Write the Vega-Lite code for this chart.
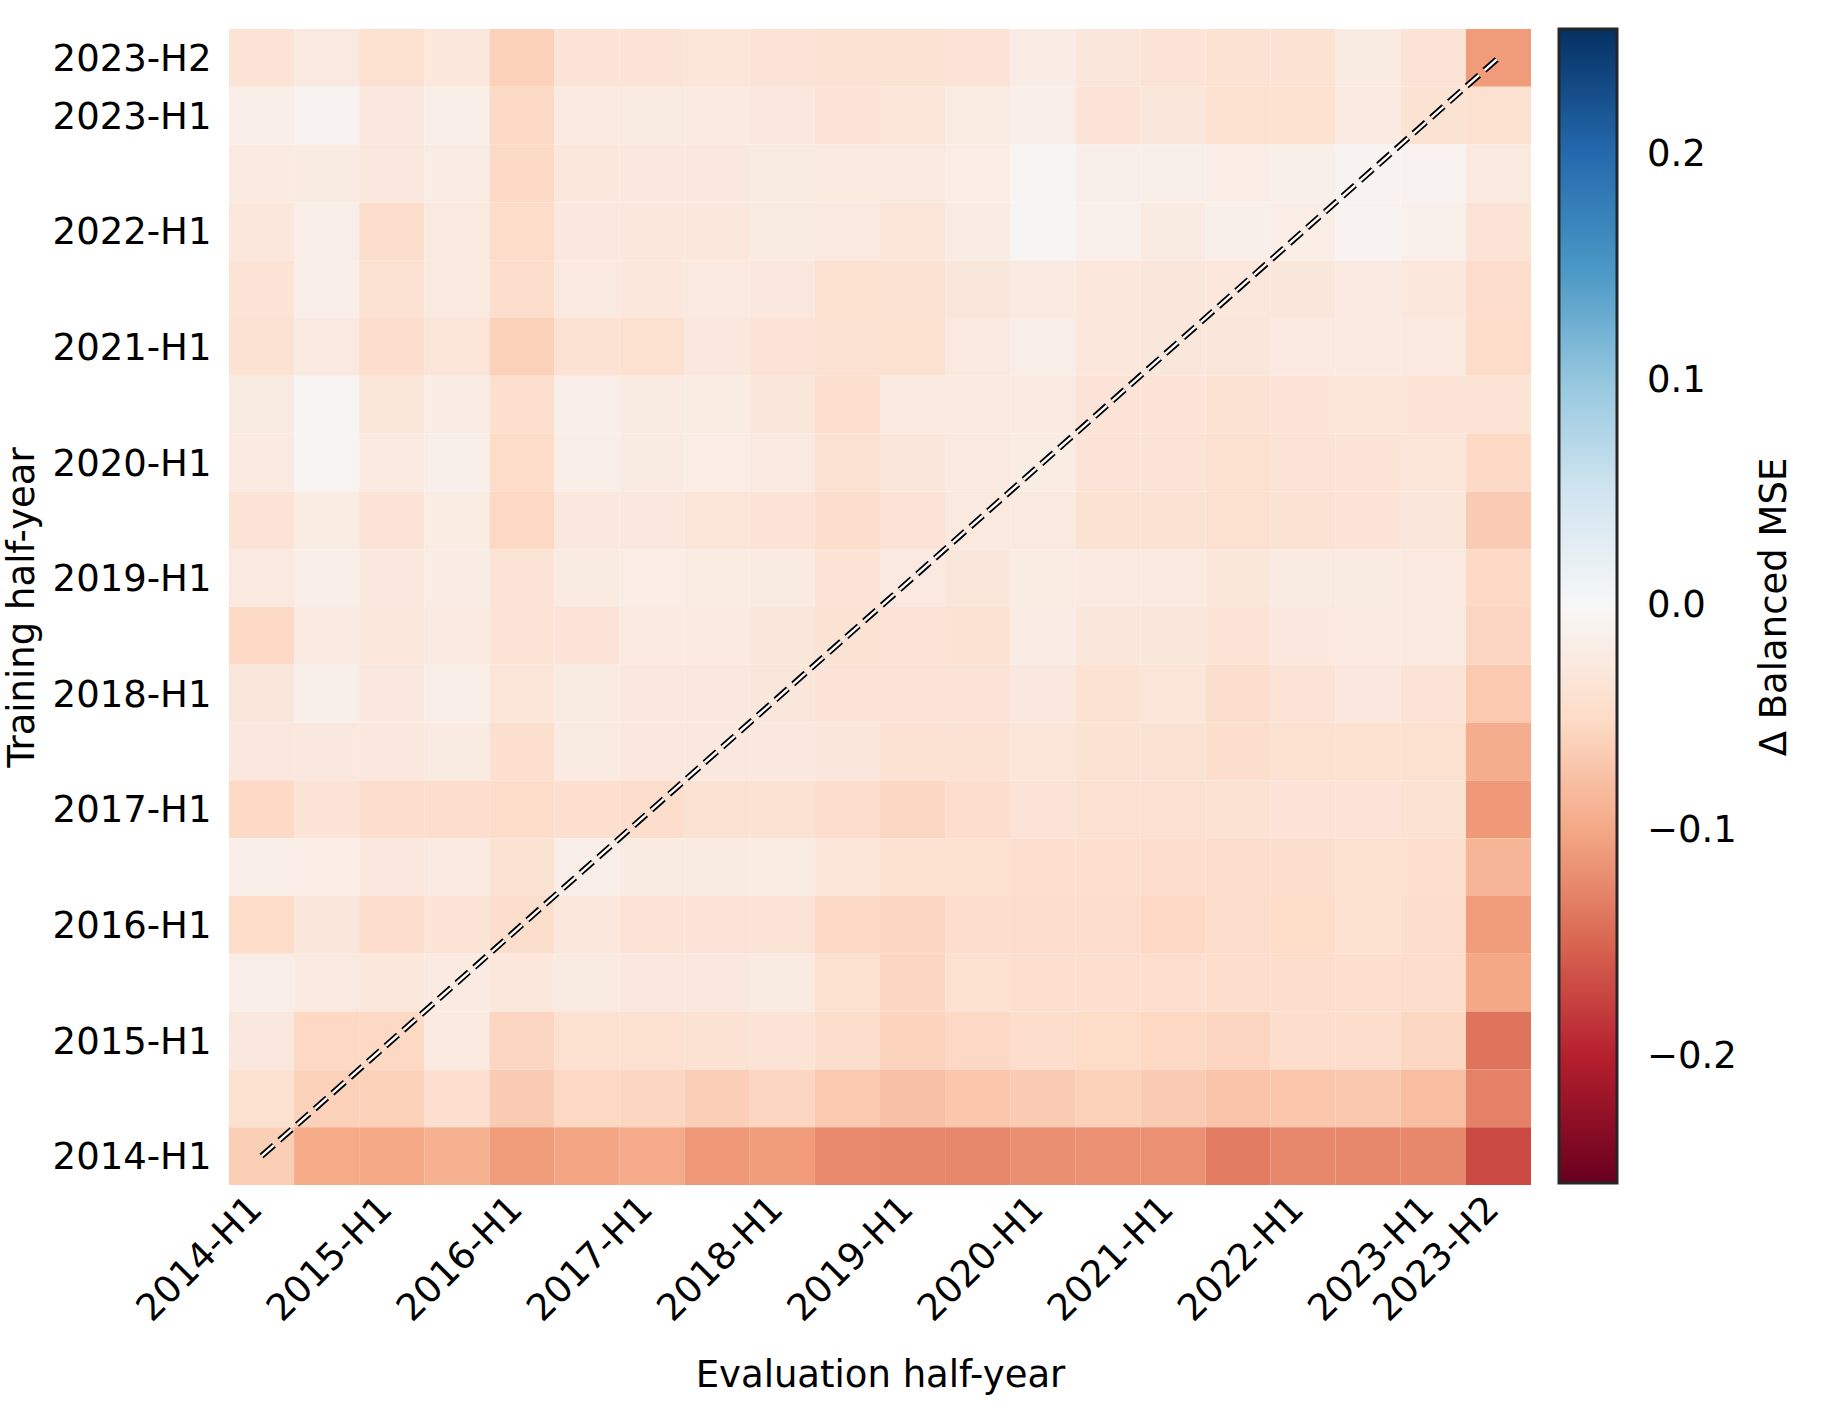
{
"$schema":"https://vega.github.io/schema/vega-lite/v6.json",
"width":1302,"height":1156,
"autosize":{"type":"none"},
"padding":{"left":229,"top":29,"right":290,"bottom":239},
"background":"white",
"config":{"font":"DejaVu Sans","view":{"stroke":null},
"axis":{"labelFontSize":37,"titleFontSize":37,"titleFontWeight":"normal","labelColor":"#000","titleColor":"#000","ticks":false,"domain":false,"grid":false,"labelOverlap":false,"labelBound":false,"labelFlush":false,"labelLimit":0}},
"layer":[
{"data":{"values":[
{"tr":"2023-H2","ev":"2014-H1","d":-0.036},{"tr":"2023-H2","ev":"2014-H2","d":-0.025},{"tr":"2023-H2","ev":"2015-H1","d":-0.041},{"tr":"2023-H2","ev":"2015-H2","d":-0.030},{"tr":"2023-H2","ev":"2016-H1","d":-0.061},{"tr":"2023-H2","ev":"2016-H2","d":-0.036},{"tr":"2023-H2","ev":"2017-H1","d":-0.036},{"tr":"2023-H2","ev":"2017-H2","d":-0.033},{"tr":"2023-H2","ev":"2018-H1","d":-0.036},{"tr":"2023-H2","ev":"2018-H2","d":-0.038},{"tr":"2023-H2","ev":"2019-H1","d":-0.037},{"tr":"2023-H2","ev":"2019-H2","d":-0.036},{"tr":"2023-H2","ev":"2020-H1","d":-0.020},{"tr":"2023-H2","ev":"2020-H2","d":-0.029},{"tr":"2023-H2","ev":"2021-H1","d":-0.034},{"tr":"2023-H2","ev":"2021-H2","d":-0.037},{"tr":"2023-H2","ev":"2022-H1","d":-0.037},{"tr":"2023-H2","ev":"2022-H2","d":-0.022},{"tr":"2023-H2","ev":"2023-H1","d":-0.035},{"tr":"2023-H2","ev":"2023-H2","d":-0.110},
{"tr":"2023-H1","ev":"2014-H1","d":-0.017},{"tr":"2023-H1","ev":"2014-H2","d":-0.007},{"tr":"2023-H1","ev":"2015-H1","d":-0.027},{"tr":"2023-H1","ev":"2015-H2","d":-0.016},{"tr":"2023-H1","ev":"2016-H1","d":-0.052},{"tr":"2023-H1","ev":"2016-H2","d":-0.023},{"tr":"2023-H1","ev":"2017-H1","d":-0.022},{"tr":"2023-H1","ev":"2017-H2","d":-0.023},{"tr":"2023-H1","ev":"2018-H1","d":-0.027},{"tr":"2023-H1","ev":"2018-H2","d":-0.035},{"tr":"2023-H1","ev":"2019-H1","d":-0.033},{"tr":"2023-H1","ev":"2019-H2","d":-0.021},{"tr":"2023-H1","ev":"2020-H1","d":-0.016},{"tr":"2023-H1","ev":"2020-H2","d":-0.036},{"tr":"2023-H1","ev":"2021-H1","d":-0.029},{"tr":"2023-H1","ev":"2021-H2","d":-0.041},{"tr":"2023-H1","ev":"2022-H1","d":-0.041},{"tr":"2023-H1","ev":"2022-H2","d":-0.024},{"tr":"2023-H1","ev":"2023-H1","d":-0.037},{"tr":"2023-H1","ev":"2023-H2","d":-0.041},
{"tr":"2022-H2","ev":"2014-H1","d":-0.023},{"tr":"2022-H2","ev":"2014-H2","d":-0.022},{"tr":"2022-H2","ev":"2015-H1","d":-0.027},{"tr":"2022-H2","ev":"2015-H2","d":-0.020},{"tr":"2022-H2","ev":"2016-H1","d":-0.052},{"tr":"2022-H2","ev":"2016-H2","d":-0.028},{"tr":"2022-H2","ev":"2017-H1","d":-0.027},{"tr":"2022-H2","ev":"2017-H2","d":-0.027},{"tr":"2022-H2","ev":"2018-H1","d":-0.022},{"tr":"2022-H2","ev":"2018-H2","d":-0.026},{"tr":"2022-H2","ev":"2019-H1","d":-0.025},{"tr":"2022-H2","ev":"2019-H2","d":-0.019},{"tr":"2022-H2","ev":"2020-H1","d":-0.005},{"tr":"2022-H2","ev":"2020-H2","d":-0.014},{"tr":"2022-H2","ev":"2021-H1","d":-0.015},{"tr":"2022-H2","ev":"2021-H2","d":-0.018},{"tr":"2022-H2","ev":"2022-H1","d":-0.015},{"tr":"2022-H2","ev":"2022-H2","d":-0.007},{"tr":"2022-H2","ev":"2023-H1","d":-0.007},{"tr":"2022-H2","ev":"2023-H2","d":-0.026},
{"tr":"2022-H1","ev":"2014-H1","d":-0.030},{"tr":"2022-H1","ev":"2014-H2","d":-0.017},{"tr":"2022-H1","ev":"2015-H1","d":-0.045},{"tr":"2022-H1","ev":"2015-H2","d":-0.026},{"tr":"2022-H1","ev":"2016-H1","d":-0.048},{"tr":"2022-H1","ev":"2016-H2","d":-0.027},{"tr":"2022-H1","ev":"2017-H1","d":-0.030},{"tr":"2022-H1","ev":"2017-H2","d":-0.030},{"tr":"2022-H1","ev":"2018-H1","d":-0.022},{"tr":"2022-H1","ev":"2018-H2","d":-0.025},{"tr":"2022-H1","ev":"2019-H1","d":-0.033},{"tr":"2022-H1","ev":"2019-H2","d":-0.020},{"tr":"2022-H1","ev":"2020-H1","d":-0.004},{"tr":"2022-H1","ev":"2020-H2","d":-0.013},{"tr":"2022-H1","ev":"2021-H1","d":-0.022},{"tr":"2022-H1","ev":"2021-H2","d":-0.014},{"tr":"2022-H1","ev":"2022-H1","d":-0.019},{"tr":"2022-H1","ev":"2022-H2","d":-0.007},{"tr":"2022-H1","ev":"2023-H1","d":-0.013},{"tr":"2022-H1","ev":"2023-H2","d":-0.035},
{"tr":"2021-H2","ev":"2014-H1","d":-0.036},{"tr":"2021-H2","ev":"2014-H2","d":-0.016},{"tr":"2021-H2","ev":"2015-H1","d":-0.038},{"tr":"2021-H2","ev":"2015-H2","d":-0.026},{"tr":"2021-H2","ev":"2016-H1","d":-0.047},{"tr":"2021-H2","ev":"2016-H2","d":-0.026},{"tr":"2021-H2","ev":"2017-H1","d":-0.030},{"tr":"2021-H2","ev":"2017-H2","d":-0.025},{"tr":"2021-H2","ev":"2018-H1","d":-0.027},{"tr":"2021-H2","ev":"2018-H2","d":-0.041},{"tr":"2021-H2","ev":"2019-H1","d":-0.037},{"tr":"2021-H2","ev":"2019-H2","d":-0.029},{"tr":"2021-H2","ev":"2020-H1","d":-0.023},{"tr":"2021-H2","ev":"2020-H2","d":-0.030},{"tr":"2021-H2","ev":"2021-H1","d":-0.029},{"tr":"2021-H2","ev":"2021-H2","d":-0.030},{"tr":"2021-H2","ev":"2022-H1","d":-0.029},{"tr":"2021-H2","ev":"2022-H2","d":-0.025},{"tr":"2021-H2","ev":"2023-H1","d":-0.030},{"tr":"2021-H2","ev":"2023-H2","d":-0.047},
{"tr":"2021-H1","ev":"2014-H1","d":-0.038},{"tr":"2021-H1","ev":"2014-H2","d":-0.025},{"tr":"2021-H1","ev":"2015-H1","d":-0.047},{"tr":"2021-H1","ev":"2015-H2","d":-0.033},{"tr":"2021-H1","ev":"2016-H1","d":-0.061},{"tr":"2021-H1","ev":"2016-H2","d":-0.038},{"tr":"2021-H1","ev":"2017-H1","d":-0.041},{"tr":"2021-H1","ev":"2017-H2","d":-0.027},{"tr":"2021-H1","ev":"2018-H1","d":-0.036},{"tr":"2021-H1","ev":"2018-H2","d":-0.038},{"tr":"2021-H1","ev":"2019-H1","d":-0.041},{"tr":"2021-H1","ev":"2019-H2","d":-0.026},{"tr":"2021-H1","ev":"2020-H1","d":-0.017},{"tr":"2021-H1","ev":"2020-H2","d":-0.030},{"tr":"2021-H1","ev":"2021-H1","d":-0.029},{"tr":"2021-H1","ev":"2021-H2","d":-0.029},{"tr":"2021-H1","ev":"2022-H1","d":-0.023},{"tr":"2021-H1","ev":"2022-H2","d":-0.023},{"tr":"2021-H1","ev":"2023-H1","d":-0.026},{"tr":"2021-H1","ev":"2023-H2","d":-0.048},
{"tr":"2020-H2","ev":"2014-H1","d":-0.022},{"tr":"2020-H2","ev":"2014-H2","d":-0.005},{"tr":"2020-H2","ev":"2015-H1","d":-0.031},{"tr":"2020-H2","ev":"2015-H2","d":-0.020},{"tr":"2020-H2","ev":"2016-H1","d":-0.043},{"tr":"2020-H2","ev":"2016-H2","d":-0.016},{"tr":"2020-H2","ev":"2017-H1","d":-0.022},{"tr":"2020-H2","ev":"2017-H2","d":-0.021},{"tr":"2020-H2","ev":"2018-H1","d":-0.029},{"tr":"2020-H2","ev":"2018-H2","d":-0.043},{"tr":"2020-H2","ev":"2019-H1","d":-0.025},{"tr":"2020-H2","ev":"2019-H2","d":-0.025},{"tr":"2020-H2","ev":"2020-H1","d":-0.023},{"tr":"2020-H2","ev":"2020-H2","d":-0.034},{"tr":"2020-H2","ev":"2021-H1","d":-0.034},{"tr":"2020-H2","ev":"2021-H2","d":-0.037},{"tr":"2020-H2","ev":"2022-H1","d":-0.036},{"tr":"2020-H2","ev":"2022-H2","d":-0.033},{"tr":"2020-H2","ev":"2023-H1","d":-0.036},{"tr":"2020-H2","ev":"2023-H2","d":-0.035},
{"tr":"2020-H1","ev":"2014-H1","d":-0.024},{"tr":"2020-H1","ev":"2014-H2","d":-0.006},{"tr":"2020-H1","ev":"2015-H1","d":-0.024},{"tr":"2020-H1","ev":"2015-H2","d":-0.014},{"tr":"2020-H1","ev":"2016-H1","d":-0.048},{"tr":"2020-H1","ev":"2016-H2","d":-0.016},{"tr":"2020-H1","ev":"2017-H1","d":-0.022},{"tr":"2020-H1","ev":"2017-H2","d":-0.019},{"tr":"2020-H1","ev":"2018-H1","d":-0.026},{"tr":"2020-H1","ev":"2018-H2","d":-0.038},{"tr":"2020-H1","ev":"2019-H1","d":-0.029},{"tr":"2020-H1","ev":"2019-H2","d":-0.025},{"tr":"2020-H1","ev":"2020-H1","d":-0.021},{"tr":"2020-H1","ev":"2020-H2","d":-0.034},{"tr":"2020-H1","ev":"2021-H1","d":-0.035},{"tr":"2020-H1","ev":"2021-H2","d":-0.042},{"tr":"2020-H1","ev":"2022-H1","d":-0.035},{"tr":"2020-H1","ev":"2022-H2","d":-0.035},{"tr":"2020-H1","ev":"2023-H1","d":-0.032},{"tr":"2020-H1","ev":"2023-H2","d":-0.052},
{"tr":"2019-H2","ev":"2014-H1","d":-0.035},{"tr":"2019-H2","ev":"2014-H2","d":-0.021},{"tr":"2019-H2","ev":"2015-H1","d":-0.035},{"tr":"2019-H2","ev":"2015-H2","d":-0.021},{"tr":"2019-H2","ev":"2016-H1","d":-0.054},{"tr":"2019-H2","ev":"2016-H2","d":-0.027},{"tr":"2019-H2","ev":"2017-H1","d":-0.027},{"tr":"2019-H2","ev":"2017-H2","d":-0.033},{"tr":"2019-H2","ev":"2018-H1","d":-0.035},{"tr":"2019-H2","ev":"2018-H2","d":-0.046},{"tr":"2019-H2","ev":"2019-H1","d":-0.036},{"tr":"2019-H2","ev":"2019-H2","d":-0.026},{"tr":"2019-H2","ev":"2020-H1","d":-0.026},{"tr":"2019-H2","ev":"2020-H2","d":-0.037},{"tr":"2019-H2","ev":"2021-H1","d":-0.037},{"tr":"2019-H2","ev":"2021-H2","d":-0.042},{"tr":"2019-H2","ev":"2022-H1","d":-0.037},{"tr":"2019-H2","ev":"2022-H2","d":-0.035},{"tr":"2019-H2","ev":"2023-H1","d":-0.029},{"tr":"2019-H2","ev":"2023-H2","d":-0.066},
{"tr":"2019-H1","ev":"2014-H1","d":-0.025},{"tr":"2019-H1","ev":"2014-H2","d":-0.017},{"tr":"2019-H1","ev":"2015-H1","d":-0.027},{"tr":"2019-H1","ev":"2015-H2","d":-0.020},{"tr":"2019-H1","ev":"2016-H1","d":-0.035},{"tr":"2019-H1","ev":"2016-H2","d":-0.022},{"tr":"2019-H1","ev":"2017-H1","d":-0.018},{"tr":"2019-H1","ev":"2017-H2","d":-0.021},{"tr":"2019-H1","ev":"2018-H1","d":-0.022},{"tr":"2019-H1","ev":"2018-H2","d":-0.035},{"tr":"2019-H1","ev":"2019-H1","d":-0.025},{"tr":"2019-H1","ev":"2019-H2","d":-0.029},{"tr":"2019-H1","ev":"2020-H1","d":-0.021},{"tr":"2019-H1","ev":"2020-H2","d":-0.024},{"tr":"2019-H1","ev":"2021-H1","d":-0.024},{"tr":"2019-H1","ev":"2021-H2","d":-0.031},{"tr":"2019-H1","ev":"2022-H1","d":-0.022},{"tr":"2019-H1","ev":"2022-H2","d":-0.022},{"tr":"2019-H1","ev":"2023-H1","d":-0.025},{"tr":"2019-H1","ev":"2023-H2","d":-0.052},
{"tr":"2018-H2","ev":"2014-H1","d":-0.052},{"tr":"2018-H2","ev":"2014-H2","d":-0.023},{"tr":"2018-H2","ev":"2015-H1","d":-0.030},{"tr":"2018-H2","ev":"2015-H2","d":-0.024},{"tr":"2018-H2","ev":"2016-H1","d":-0.035},{"tr":"2018-H2","ev":"2016-H2","d":-0.034},{"tr":"2018-H2","ev":"2017-H1","d":-0.024},{"tr":"2018-H2","ev":"2017-H2","d":-0.024},{"tr":"2018-H2","ev":"2018-H1","d":-0.029},{"tr":"2018-H2","ev":"2018-H2","d":-0.037},{"tr":"2018-H2","ev":"2019-H1","d":-0.036},{"tr":"2018-H2","ev":"2019-H2","d":-0.038},{"tr":"2018-H2","ev":"2020-H1","d":-0.020},{"tr":"2018-H2","ev":"2020-H2","d":-0.029},{"tr":"2018-H2","ev":"2021-H1","d":-0.029},{"tr":"2018-H2","ev":"2021-H2","d":-0.035},{"tr":"2018-H2","ev":"2022-H1","d":-0.027},{"tr":"2018-H2","ev":"2022-H2","d":-0.025},{"tr":"2018-H2","ev":"2023-H1","d":-0.025},{"tr":"2018-H2","ev":"2023-H2","d":-0.056},
{"tr":"2018-H1","ev":"2014-H1","d":-0.029},{"tr":"2018-H1","ev":"2014-H2","d":-0.014},{"tr":"2018-H1","ev":"2015-H1","d":-0.027},{"tr":"2018-H1","ev":"2015-H2","d":-0.016},{"tr":"2018-H1","ev":"2016-H1","d":-0.032},{"tr":"2018-H1","ev":"2016-H2","d":-0.022},{"tr":"2018-H1","ev":"2017-H1","d":-0.027},{"tr":"2018-H1","ev":"2017-H2","d":-0.027},{"tr":"2018-H1","ev":"2018-H1","d":-0.029},{"tr":"2018-H1","ev":"2018-H2","d":-0.034},{"tr":"2018-H1","ev":"2019-H1","d":-0.036},{"tr":"2018-H1","ev":"2019-H2","d":-0.036},{"tr":"2018-H1","ev":"2020-H1","d":-0.027},{"tr":"2018-H1","ev":"2020-H2","d":-0.038},{"tr":"2018-H1","ev":"2021-H1","d":-0.032},{"tr":"2018-H1","ev":"2021-H2","d":-0.046},{"tr":"2018-H1","ev":"2022-H1","d":-0.035},{"tr":"2018-H1","ev":"2022-H2","d":-0.027},{"tr":"2018-H1","ev":"2023-H1","d":-0.035},{"tr":"2018-H1","ev":"2023-H2","d":-0.068},
{"tr":"2017-H2","ev":"2014-H1","d":-0.027},{"tr":"2017-H2","ev":"2014-H2","d":-0.027},{"tr":"2017-H2","ev":"2015-H1","d":-0.027},{"tr":"2017-H2","ev":"2015-H2","d":-0.022},{"tr":"2017-H2","ev":"2016-H1","d":-0.043},{"tr":"2017-H2","ev":"2016-H2","d":-0.022},{"tr":"2017-H2","ev":"2017-H1","d":-0.027},{"tr":"2017-H2","ev":"2017-H2","d":-0.027},{"tr":"2017-H2","ev":"2018-H1","d":-0.027},{"tr":"2017-H2","ev":"2018-H2","d":-0.029},{"tr":"2017-H2","ev":"2019-H1","d":-0.038},{"tr":"2017-H2","ev":"2019-H2","d":-0.038},{"tr":"2017-H2","ev":"2020-H1","d":-0.032},{"tr":"2017-H2","ev":"2020-H2","d":-0.037},{"tr":"2017-H2","ev":"2021-H1","d":-0.037},{"tr":"2017-H2","ev":"2021-H2","d":-0.047},{"tr":"2017-H2","ev":"2022-H1","d":-0.042},{"tr":"2017-H2","ev":"2022-H2","d":-0.041},{"tr":"2017-H2","ev":"2023-H1","d":-0.041},{"tr":"2017-H2","ev":"2023-H2","d":-0.094},
{"tr":"2017-H1","ev":"2014-H1","d":-0.052},{"tr":"2017-H1","ev":"2014-H2","d":-0.035},{"tr":"2017-H1","ev":"2015-H1","d":-0.047},{"tr":"2017-H1","ev":"2015-H2","d":-0.047},{"tr":"2017-H1","ev":"2016-H1","d":-0.048},{"tr":"2017-H1","ev":"2016-H2","d":-0.044},{"tr":"2017-H1","ev":"2017-H1","d":-0.047},{"tr":"2017-H1","ev":"2017-H2","d":-0.037},{"tr":"2017-H1","ev":"2018-H1","d":-0.037},{"tr":"2017-H1","ev":"2018-H2","d":-0.047},{"tr":"2017-H1","ev":"2019-H1","d":-0.055},{"tr":"2017-H1","ev":"2019-H2","d":-0.047},{"tr":"2017-H1","ev":"2020-H1","d":-0.034},{"tr":"2017-H1","ev":"2020-H2","d":-0.040},{"tr":"2017-H1","ev":"2021-H1","d":-0.040},{"tr":"2017-H1","ev":"2021-H2","d":-0.039},{"tr":"2017-H1","ev":"2022-H1","d":-0.034},{"tr":"2017-H1","ev":"2022-H2","d":-0.034},{"tr":"2017-H1","ev":"2023-H1","d":-0.037},{"tr":"2017-H1","ev":"2023-H2","d":-0.111},
{"tr":"2016-H2","ev":"2014-H1","d":-0.017},{"tr":"2016-H2","ev":"2014-H2","d":-0.018},{"tr":"2016-H2","ev":"2015-H1","d":-0.027},{"tr":"2016-H2","ev":"2015-H2","d":-0.024},{"tr":"2016-H2","ev":"2016-H1","d":-0.037},{"tr":"2016-H2","ev":"2016-H2","d":-0.017},{"tr":"2016-H2","ev":"2017-H1","d":-0.022},{"tr":"2016-H2","ev":"2017-H2","d":-0.022},{"tr":"2016-H2","ev":"2018-H1","d":-0.021},{"tr":"2016-H2","ev":"2018-H2","d":-0.032},{"tr":"2016-H2","ev":"2019-H1","d":-0.041},{"tr":"2016-H2","ev":"2019-H2","d":-0.041},{"tr":"2016-H2","ev":"2020-H1","d":-0.043},{"tr":"2016-H2","ev":"2020-H2","d":-0.044},{"tr":"2016-H2","ev":"2021-H1","d":-0.047},{"tr":"2016-H2","ev":"2021-H2","d":-0.047},{"tr":"2016-H2","ev":"2022-H1","d":-0.045},{"tr":"2016-H2","ev":"2022-H2","d":-0.042},{"tr":"2016-H2","ev":"2023-H1","d":-0.044},{"tr":"2016-H2","ev":"2023-H2","d":-0.087},
{"tr":"2016-H1","ev":"2014-H1","d":-0.048},{"tr":"2016-H1","ev":"2014-H2","d":-0.029},{"tr":"2016-H1","ev":"2015-H1","d":-0.047},{"tr":"2016-H1","ev":"2015-H2","d":-0.035},{"tr":"2016-H1","ev":"2016-H1","d":-0.046},{"tr":"2016-H1","ev":"2016-H2","d":-0.030},{"tr":"2016-H1","ev":"2017-H1","d":-0.035},{"tr":"2016-H1","ev":"2017-H2","d":-0.034},{"tr":"2016-H1","ev":"2018-H1","d":-0.035},{"tr":"2016-H1","ev":"2018-H2","d":-0.052},{"tr":"2016-H1","ev":"2019-H1","d":-0.056},{"tr":"2016-H1","ev":"2019-H2","d":-0.047},{"tr":"2016-H1","ev":"2020-H1","d":-0.047},{"tr":"2016-H1","ev":"2020-H2","d":-0.047},{"tr":"2016-H1","ev":"2021-H1","d":-0.053},{"tr":"2016-H1","ev":"2021-H2","d":-0.047},{"tr":"2016-H1","ev":"2022-H1","d":-0.050},{"tr":"2016-H1","ev":"2022-H2","d":-0.042},{"tr":"2016-H1","ev":"2023-H1","d":-0.047},{"tr":"2016-H1","ev":"2023-H2","d":-0.108},
{"tr":"2015-H2","ev":"2014-H1","d":-0.017},{"tr":"2015-H2","ev":"2014-H2","d":-0.025},{"tr":"2015-H2","ev":"2015-H1","d":-0.030},{"tr":"2015-H2","ev":"2015-H2","d":-0.024},{"tr":"2015-H2","ev":"2016-H1","d":-0.030},{"tr":"2015-H2","ev":"2016-H2","d":-0.022},{"tr":"2015-H2","ev":"2017-H1","d":-0.027},{"tr":"2015-H2","ev":"2017-H2","d":-0.027},{"tr":"2015-H2","ev":"2018-H1","d":-0.022},{"tr":"2015-H2","ev":"2018-H2","d":-0.042},{"tr":"2015-H2","ev":"2019-H1","d":-0.056},{"tr":"2015-H2","ev":"2019-H2","d":-0.041},{"tr":"2015-H2","ev":"2020-H1","d":-0.043},{"tr":"2015-H2","ev":"2020-H2","d":-0.044},{"tr":"2015-H2","ev":"2021-H1","d":-0.044},{"tr":"2015-H2","ev":"2021-H2","d":-0.047},{"tr":"2015-H2","ev":"2022-H1","d":-0.047},{"tr":"2015-H2","ev":"2022-H2","d":-0.043},{"tr":"2015-H2","ev":"2023-H1","d":-0.047},{"tr":"2015-H2","ev":"2023-H2","d":-0.100},
{"tr":"2015-H1","ev":"2014-H1","d":-0.027},{"tr":"2015-H1","ev":"2014-H2","d":-0.054},{"tr":"2015-H1","ev":"2015-H1","d":-0.054},{"tr":"2015-H1","ev":"2015-H2","d":-0.024},{"tr":"2015-H1","ev":"2016-H1","d":-0.056},{"tr":"2015-H1","ev":"2016-H2","d":-0.042},{"tr":"2015-H1","ev":"2017-H1","d":-0.041},{"tr":"2015-H1","ev":"2017-H2","d":-0.038},{"tr":"2015-H1","ev":"2018-H1","d":-0.035},{"tr":"2015-H1","ev":"2018-H2","d":-0.046},{"tr":"2015-H1","ev":"2019-H1","d":-0.058},{"tr":"2015-H1","ev":"2019-H2","d":-0.053},{"tr":"2015-H1","ev":"2020-H1","d":-0.047},{"tr":"2015-H1","ev":"2020-H2","d":-0.050},{"tr":"2015-H1","ev":"2021-H1","d":-0.054},{"tr":"2015-H1","ev":"2021-H2","d":-0.056},{"tr":"2015-H1","ev":"2022-H1","d":-0.047},{"tr":"2015-H1","ev":"2022-H2","d":-0.047},{"tr":"2015-H1","ev":"2023-H1","d":-0.055},{"tr":"2015-H1","ev":"2023-H2","d":-0.139},
{"tr":"2014-H2","ev":"2014-H1","d":-0.041},{"tr":"2014-H2","ev":"2014-H2","d":-0.061},{"tr":"2014-H2","ev":"2015-H1","d":-0.061},{"tr":"2014-H2","ev":"2015-H2","d":-0.044},{"tr":"2014-H2","ev":"2016-H1","d":-0.066},{"tr":"2014-H2","ev":"2016-H2","d":-0.054},{"tr":"2014-H2","ev":"2017-H1","d":-0.056},{"tr":"2014-H2","ev":"2017-H2","d":-0.063},{"tr":"2014-H2","ev":"2018-H1","d":-0.056},{"tr":"2014-H2","ev":"2018-H2","d":-0.068},{"tr":"2014-H2","ev":"2019-H1","d":-0.077},{"tr":"2014-H2","ev":"2019-H2","d":-0.071},{"tr":"2014-H2","ev":"2020-H1","d":-0.066},{"tr":"2014-H2","ev":"2020-H2","d":-0.061},{"tr":"2014-H2","ev":"2021-H1","d":-0.066},{"tr":"2014-H2","ev":"2021-H2","d":-0.073},{"tr":"2014-H2","ev":"2022-H1","d":-0.071},{"tr":"2014-H2","ev":"2022-H2","d":-0.069},{"tr":"2014-H2","ev":"2023-H1","d":-0.079},{"tr":"2014-H2","ev":"2023-H2","d":-0.129},
{"tr":"2014-H1","ev":"2014-H1","d":-0.064},{"tr":"2014-H1","ev":"2014-H2","d":-0.098},{"tr":"2014-H1","ev":"2015-H1","d":-0.099},{"tr":"2014-H1","ev":"2015-H2","d":-0.091},{"tr":"2014-H1","ev":"2016-H1","d":-0.110},{"tr":"2014-H1","ev":"2016-H2","d":-0.102},{"tr":"2014-H1","ev":"2017-H1","d":-0.097},{"tr":"2014-H1","ev":"2017-H2","d":-0.112},{"tr":"2014-H1","ev":"2018-H1","d":-0.110},{"tr":"2014-H1","ev":"2018-H2","d":-0.123},{"tr":"2014-H1","ev":"2019-H1","d":-0.125},{"tr":"2014-H1","ev":"2019-H2","d":-0.124},{"tr":"2014-H1","ev":"2020-H1","d":-0.119},{"tr":"2014-H1","ev":"2020-H2","d":-0.118},{"tr":"2014-H1","ev":"2021-H1","d":-0.118},{"tr":"2014-H1","ev":"2021-H2","d":-0.133},{"tr":"2014-H1","ev":"2022-H1","d":-0.124},{"tr":"2014-H1","ev":"2022-H2","d":-0.124},{"tr":"2014-H1","ev":"2023-H1","d":-0.124},{"tr":"2014-H1","ev":"2023-H2","d":-0.169}
]},
"mark":{"type":"rect"},
"encoding":{
"x":{"field":"ev","type":"ordinal","scale":{"domain":["2014-H1","2014-H2","2015-H1","2015-H2","2016-H1","2016-H2","2017-H1","2017-H2","2018-H1","2018-H2","2019-H1","2019-H2","2020-H1","2020-H2","2021-H1","2021-H2","2022-H1","2022-H2","2023-H1","2023-H2"],"paddingInner":0,"paddingOuter":0},
"axis":{"title":"Evaluation half-year","labelAngle":-45,"labelAlign":"right","labelBaseline":"top","labelPadding":5,"labelOffset":-18,"titlePadding":30,"labelExpr":"indexof(datum.value,'H1')>=0 || datum.value=='2023-H2' ? datum.value : ''"}},
"y":{"field":"tr","type":"ordinal","scale":{"domain":["2023-H2","2023-H1","2022-H2","2022-H1","2021-H2","2021-H1","2020-H2","2020-H1","2019-H2","2019-H1","2018-H2","2018-H1","2017-H2","2017-H1","2016-H2","2016-H1","2015-H2","2015-H1","2014-H2","2014-H1"],"paddingInner":0,"paddingOuter":0},
"axis":{"title":"Training half-year","labelPadding":18,"labelOffset":2,"titlePadding":11,"labelExpr":"indexof(datum.value,'H1')>=0 || datum.value=='2023-H2' ? datum.value : ''"}},
"color":{"field":"d","type":"quantitative",
"scale":{"domain":[-0.256,-0.2048,-0.1536,-0.1024,-0.0512,0,0.0512,0.1024,0.1536,0.2048,0.256],"range":["#67001f","#b2182b","#d6604d","#f4a582","#fddbc7","#f7f7f7","#d1e5f0","#92c5de","#4393c3","#2166ac","#053061"],"interpolate":"rgb"},
"legend":{"type":"gradient","orient":"right","offset":28,"padding":0,"gradientLength":1154,"gradientThickness":58,"gradientStrokeColor":"#262626","gradientStrokeWidth":3,"values":[-0.2,-0.1,0,0.1,0.2],"labelExpr":"replace(format(datum.value,'.1f'),'-','\u2212')","labelFontSize":37,"labelOffset":30,"labelColor":"#000","labelLimit":0,"title":"\u0394 Balanced MSE","titleFontSize":37,"titleFontWeight":"normal","titleColor":"#000","titleLimit":2000,"titleOrient":"right","titleAnchor":"middle","titleBaseline":"top","titlePadding":20,
"encode":{"title":{"update":{"angle":{"value":270}}}}}}
}},
{"data":{"values":[{"ev":"2014-H1","tr":"2014-H1"},{"ev":"2023-H2","tr":"2023-H2"}]},
"mark":{"type":"line","color":"#000000","strokeWidth":6,"strokeDash":[16.5,7.2],"strokeCap":"butt"},
"encoding":{"x":{"field":"ev","type":"ordinal"},"y":{"field":"tr","type":"ordinal"}}},
{"data":{"values":[{"ev":"2014-H1","tr":"2014-H1"},{"ev":"2023-H2","tr":"2023-H2"}]},
"mark":{"type":"line","color":"#ffffff","strokeWidth":2.4,"strokeDash":[16.5,7.2],"strokeCap":"butt"},
"encoding":{"x":{"field":"ev","type":"ordinal"},"y":{"field":"tr","type":"ordinal"}}}
]
}
